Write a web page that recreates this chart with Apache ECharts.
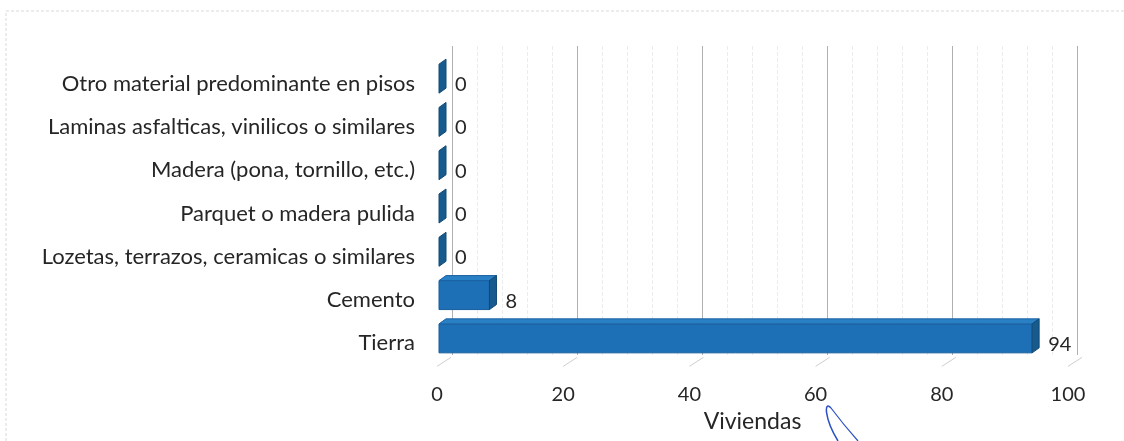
<!DOCTYPE html>
<html>
<head>
<meta charset="utf-8">
<script src="https://cdn.jsdelivr.net/npm/echarts@6/dist/echarts.min.js"></script>
<style>
  html, body { margin: 0; padding: 0; background: #fff; }
  #chart { width: 1124px; height: 441px; }
</style>
</head>
<body>
<div id="chart"></div>
<script>
// categories bottom -> top (echarts puts the first category at the bottom)
var categories = [
	'Tierra',
	'Cemento',
	'Lozetas, terrazos, ceramicas o similares',
	'Parquet o madera pulida',
	'Madera (pona, tornillo, etc.)',
	'Laminas asfalticas, vinilicos o similares',
	'Otro material predominante en pisos'
];
var viviendas = [94, 8, 0, 0, 0, 0, 0];
var xTicks = [0, 20, 40, 60, 80, 100];

var FONT = 'Lato';
var DX = 7, DY = 5;   // depth of the 3d bars

var chart = echarts.init(document.getElementById('chart'));

function renderBar(params, api) {
	var v = api.value(0), cat = api.value(1);
	var p0 = api.coord([0, cat]);
	var p1 = api.coord([v, cat]);
	var h = 29;
	var y0 = p0[1] - h / 2 - 5;
	var x0 = p0[0] + 2, x1 = p1[0] + 2;
	var children = [];
	if (x1 - x0 > 0) {
		children.push({
			type: 'rect',
			shape: { x: x0, y: y0, width: x1 - x0, height: h },
			style: { fill: '#1d70b5', stroke: '#175d9c', lineWidth: 1 }
		});
		children.push({
			type: 'polygon',
			shape: { points: [[x0, y0], [x1, y0], [x1 + DX, y0 - DY], [x0 + DX, y0 - DY]] },
			style: { fill: '#2a80c4', stroke: '#1a62a4', lineWidth: 1 }
		});
	}
	children.push({
		type: 'polygon',
		shape: { points: [[x1, y0], [x1 + DX, y0 - DY], [x1 + DX, y0 + h - DY], [x1, y0 + h]] },
		style: { fill: '#165a8e', stroke: '#124a74', lineWidth: 1 }
	});
	children.push({
		type: 'text',
		style: {
			text: String(v),
			x: x1 + DX + 9,
			y: p0[1] + 1,
			verticalAlign: 'middle',
			fill: '#262626',
			font: '20px ' + FONT
		}
	});
	return { type: 'group', children: children };
}

function renderFloorTick(params, api) {
	var p = api.coord([api.value(0), 0]);
	var yb = p[1] + 23;
	return {
		type: 'line',
		shape: { x1: p[0], y1: yb, x2: p[0] + 14, y2: yb - 9 },
		style: { stroke: '#cfcfcf', lineWidth: 1 }
	};
}

var option = {
	backgroundColor: '#fff',
	animation: false,
	graphic: [
		{
			type: 'rect',
			shape: { x: 6, y: 11, width: 1130, height: 440 },
			style: { fill: 'none', stroke: '#d9d9d9', lineWidth: 1, lineDash: [3, 2] },
			silent: true
		},
		{
			type: 'bezierCurve',
			shape: { x1: 838, y1: 441, cpx1: 824, cpy1: 418, cpx2: 824, cpy2: 400, x2: 831, y2: 408 },
			style: { fill: null, stroke: '#2a4fc4', lineWidth: 1.5 },
			silent: true
		},
		{
			type: 'bezierCurve',
			shape: { x1: 831, y1: 408, cpx1: 840, cpy1: 420, cpx2: 850, cpy2: 432, x2: 858, y2: 441 },
			style: { fill: null, stroke: '#2a4fc4', lineWidth: 1.2 },
			silent: true
		}
	],
	grid: [
		// front grid: bars and labels
		{ left: 437, right: 56, top: 62, bottom: 76 },
		// back wall: grid lines drawn a bit right and up
		{ left: 452, right: 47, top: 46, bottom: 86 }
	],
	xAxis: [
		{
			gridIndex: 0, type: 'value', min: 0, max: 100, interval: 20,
			name: 'Viviendas', nameLocation: 'middle', nameGap: 44,
			nameTextStyle: { fontFamily: FONT, fontSize: 23, color: '#262626' },
			axisLine: { show: false }, axisTick: { show: false },
			axisLabel: { margin: 20, fontFamily: FONT, fontSize: 20, color: '#262626' },
			splitLine: { show: false }
		},
		{
			gridIndex: 1, type: 'value', min: 0, max: 100, interval: 20,
			axisLine: { show: false }, axisTick: { show: false }, axisLabel: { show: false },
			splitLine: { show: true, lineStyle: { color: '#b0b0b0', width: 1 } },
			minorTick: { show: false, splitNumber: 5 },
			minorSplitLine: { show: true, lineStyle: { color: '#ececec', width: 1, type: 'dashed' } }
		}
	],
	yAxis: [
		{
			gridIndex: 0, type: 'category', data: categories,
			axisLine: { show: false }, axisTick: { show: false },
			axisLabel: { margin: 22, fontFamily: FONT, fontSize: 22, color: '#262626' },
			splitLine: { show: false }
		},
		{
			gridIndex: 1, type: 'category', data: categories,
			axisLine: { show: false }, axisTick: { show: false }, axisLabel: { show: false },
			splitLine: { show: false }
		}
	],
	series: [
		{
			type: 'custom',
			xAxisIndex: 0, yAxisIndex: 0,
			renderItem: renderFloorTick,
			data: xTicks.map(function(t) { return [t]; }),
			encode: { x: 0 },
			z: 1
		},
		{
			type: 'custom',
			xAxisIndex: 0, yAxisIndex: 0,
			renderItem: renderBar,
			data: viviendas.map(function(v, i) { return [v, i]; }),
			encode: { x: 0, y: 1 },
			z: 5
		}
	]
};
chart.setOption(option);
</script>
</body>
</html>
